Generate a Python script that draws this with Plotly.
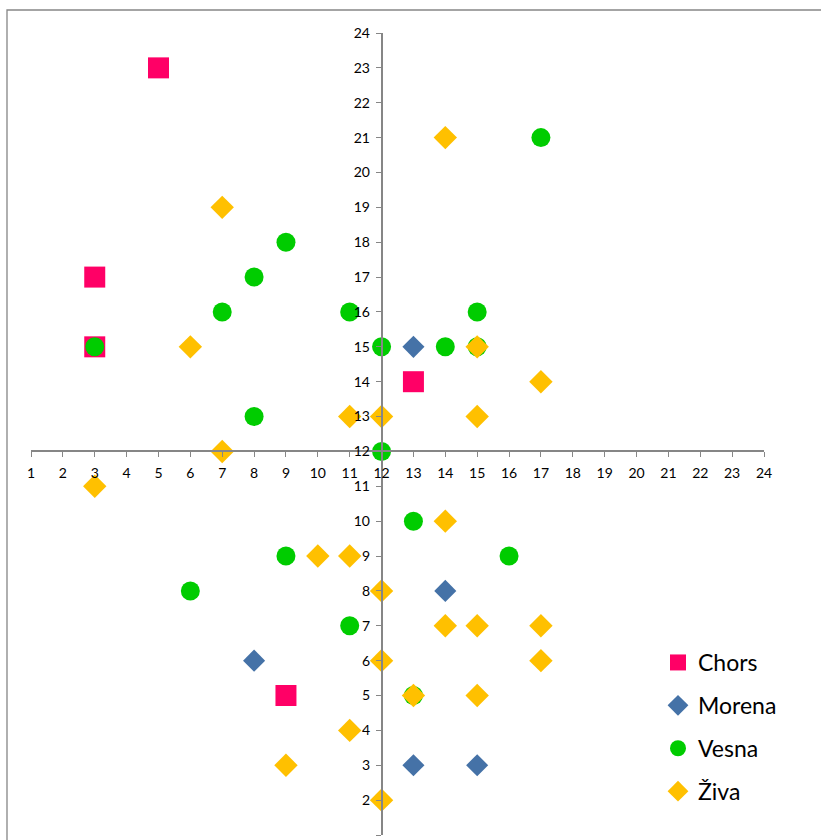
import plotly.graph_objects as go

# ---- data ----
chors_x = [5, 3, 3, 13, 9]
chors_y = [23, 17, 15, 14, 5]

morena_x = [13, 14, 8, 13, 15]
morena_y = [15, 8, 6, 3, 3]

vesna_x = [17, 9, 8, 7, 11, 15, 3, 12, 14, 15, 8, 12, 13, 9, 16, 6, 11, 13]
vesna_y = [21, 18, 17, 16, 16, 16, 15, 15, 15, 15, 13, 12, 10, 9, 9, 8, 7, 5]

ziva_x = [14, 7, 6, 15, 17, 11, 12, 15, 7, 3, 14, 10, 11, 12, 14, 15, 17, 12, 17, 13, 15, 11, 9, 12]
ziva_y = [21, 19, 15, 15, 14, 13, 13, 13, 12, 11, 10, 9, 9, 8, 7, 7, 7, 6, 6, 5, 5, 4, 3, 2]

series_names = ["Chors", "Morena", "Vesna", "Živa"]
tick_vals = list(range(1, 25))
axis_cross = 12

FONT = "Lato, 'Open Sans', sans-serif"
AX_COLOR = "#868686"

fig = go.Figure()
styles = [
    (chors_x, chors_y, "square", "#FF0066", 21),
    (morena_x, morena_y, "diamond", "#4572A7", 17),
    (vesna_x, vesna_y, "circle", "#00CC00", 19),
    (ziva_x, ziva_y, "diamond", "#FFC000", 18),
]
for name, (xs, ys, sym, col, sz) in zip(series_names, styles):
    fig.add_trace(go.Scatter(
        x=xs, y=ys, mode="markers", name=name, legendgroup=name,
        marker=dict(symbol=sym, color=col, size=sz, line=dict(width=0)),
        cliponaxis=False,
    ))

lo, hi = tick_vals[0], tick_vals[-1]
pos = (axis_cross - lo) / (hi - lo)

common = dict(
    range=[lo, hi], tickvals=tick_vals, showgrid=False, zeroline=False,
    showline=True, linecolor=AX_COLOR, linewidth=1.5,
    ticks="outside", ticklen=5, tickcolor=AX_COLOR, tickwidth=1,
    tickfont=dict(family=FONT, size=14, color="#000000"),
    anchor="free", position=pos, fixedrange=True,
)
fig.update_xaxes(**common, ticklabelstandoff=4)
fig.update_yaxes(**common, ticklabelstandoff=3)

W, H = 821, 840
ml, mr, mt, mb = 31, 57, 33, 5
pw, ph = W - ml - mr, H - mt - mb

# chart frame (extends beyond the visible area on the right and bottom)
fig.add_shape(type="rect", xref="paper", yref="paper",
              x0=(7 - ml) / pw, x1=1.3, y0=-0.2, y1=1 + (mt - 10) / ph,
              line=dict(color=AX_COLOR, width=1.3), fillcolor="rgba(0,0,0,0)",
              layer="below")

fig.update_layout(
    width=W, height=H,
    margin=dict(l=ml, r=mr, t=mt, b=mb),
    plot_bgcolor="white", paper_bgcolor="white",
    showlegend=True,
    legend=dict(
        x=(658 - ml) / pw, xanchor="left",
        y=1 - (641 - mt) / ph, yanchor="top",
        font=dict(family=FONT, size=23, color="#000000"),
        tracegroupgap=10, bgcolor="rgba(0,0,0,0)",
    ),
)

fig.write_html(
    "out.html",
    config={"displayModeBar": False},
    post_script="document.body.style.margin='0px';document.body.style.overflow='hidden';",
)
